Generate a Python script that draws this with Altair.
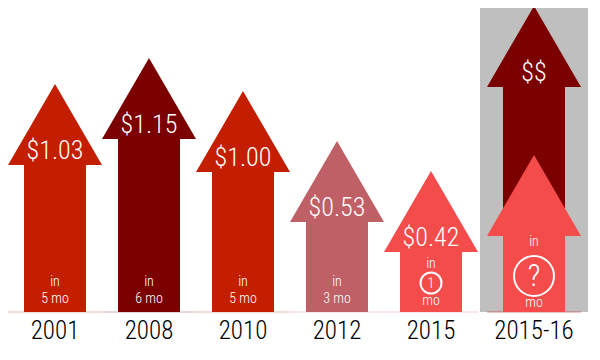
import altair as alt
import pandas as pd

# ---- data ----
years = ["2001", "2008", "2010", "2012", "2015"]
amounts = ["$1.03", "$1.15", "$1.00", "$0.53", "$0.42"]
arrow_tips = [228, 254, 221, 171, 141]          # arrow height above baseline
months = ["5", "6", "5", "3", "1"]
colors = ["#C41E00", "#7B0000", "#C41E00", "#BF6066", "#F44B4B"]

proj_year = "2015-16"
proj_amounts = ["$$", ""]
proj_tips = [306, 157]
proj_colors = ["#7B0000", "#F44B4B"]
proj_month = "?"

all_years = years + [proj_year]

HEAD = 81            # head height (same units as y)
TOP = 304
FONT = "Roboto Condensed, Liberation Sans Narrow, Roboto, sans-serif"
W = 300
TRI = "M-1,0L1,0L0,-1.7234Z"

df = pd.DataFrame({"year": years, "amount": amounts, "tip": arrow_tips,
                   "months": months, "color": colors})
df["dur"] = df["months"] + " mo"
proj = pd.DataFrame({"year": [proj_year] * 2, "amount": proj_amounts,
                     "tip": proj_tips, "color": proj_colors})

xs = alt.Scale(domain=all_years, paddingInner=0, paddingOuter=0)
ys = alt.Scale(domain=[0, TOP], nice=False, zero=True)
X = alt.X("year:N", scale=xs, axis=None)
Y0 = alt.Y("base:Q", scale=ys, axis=None)
C = alt.Color("color:N", scale=None)


def ch(data):
    return alt.Chart(data).transform_calculate(base="0", shaft=f"datum.tip - {HEAD}")


def arrows(data, off):
    base = ch(data)
    Ys = alt.Y("shaft:Q", scale=ys, axis=None, stack=None)
    shaft = base.mark_bar(width=62, xOffset=off).encode(x=X, y=Ys, color=C)
    head = base.mark_point(shape=TRI, size=94 * 94, filled=True, opacity=1,
                           strokeWidth=0, xOffset=off).encode(x=X, y=Ys, color=C)
    base_line = base.mark_tick(size=94, thickness=1, opacity=0.3, xOffset=off).encode(
        x=X, y=Y0, color=C)
    label = base.mark_text(font=FONT, fontWeight=W, fontSize=26, color="white",
                           baseline="middle", dy=-14, xOffset=off).encode(
        x=X, y=Ys, text="amount:N")
    year = ch(data.drop_duplicates("year")).mark_text(
        font=FONT, fontWeight=W, fontSize=25, color="black",
        baseline="alphabetic", dy=27, xOffset=off).encode(x=X, y=Y0, text="year:N")
    return [base_line, shaft, head, label, year]


gray = alt.Chart(pd.DataFrame({"year": [proj_year]})).transform_calculate(
    top=str(TOP)).mark_bar(width=108, color="#BFBFBF", xOffset=9).encode(
    x=X, y=alt.Y("top:Q", scale=ys, axis=None))

layers = [gray] + arrows(df, 0) + arrows(proj, 9)

txt = dict(font=FONT, fontWeight=W, color="white", baseline="middle")

# small labels for plain durations
plain = df.iloc[:4].assign(word="in")
layers += [
    ch(plain).mark_text(fontSize=14, dy=-30, **txt).encode(x=X, y=Y0, text="word:N"),
    ch(plain).mark_text(fontSize=14, dy=-13, **txt).encode(x=X, y=Y0, text="dur:N"),
]

# circled duration for 2015
c15 = df.iloc[4:5].assign(word="in", unit="mo")
layers += [
    ch(c15).mark_text(fontSize=14, dy=-48, **txt).encode(x=X, y=Y0, text="word:N"),
    ch(c15).mark_point(shape="circle", size=21 * 21, filled=False, color="white",
                       strokeWidth=2, opacity=1, yOffset=-29).encode(x=X, y=Y0),
    ch(c15).mark_text(fontSize=15, dy=-29, **txt).encode(x=X, y=Y0, text="months:N"),
    ch(c15).mark_text(fontSize=14, dy=-11, **txt).encode(x=X, y=Y0, text="unit:N"),
]

# circled duration for the projection
cp = pd.DataFrame({"year": [proj_year], "months": [proj_month], "word": ["in"], "unit": ["mo"]})
layers += [
    ch(cp).mark_text(fontSize=14, dy=-70, xOffset=9, **txt).encode(x=X, y=Y0, text="word:N"),
    ch(cp).mark_point(shape="circle", size=40 * 40, filled=False, color="white",
                      strokeWidth=2, opacity=1, yOffset=-36, xOffset=9).encode(x=X, y=Y0),
    ch(cp).mark_text(fontSize=32, dy=-36, xOffset=9, **txt).encode(x=X, y=Y0, text="months:N"),
    ch(cp).mark_text(fontSize=14, dy=-9, xOffset=9, **txt).encode(x=X, y=Y0, text="unit:N"),
]

chart = alt.layer(*layers).properties(
    width=564, height=304,
    autosize=alt.AutoSizeParams(type="none"),
    padding={"left": 0, "top": 0, "right": 20, "bottom": 44},
).configure_view(stroke=None)

chart.save("out.html", embed_options={"renderer": "svg", "actions": False})
